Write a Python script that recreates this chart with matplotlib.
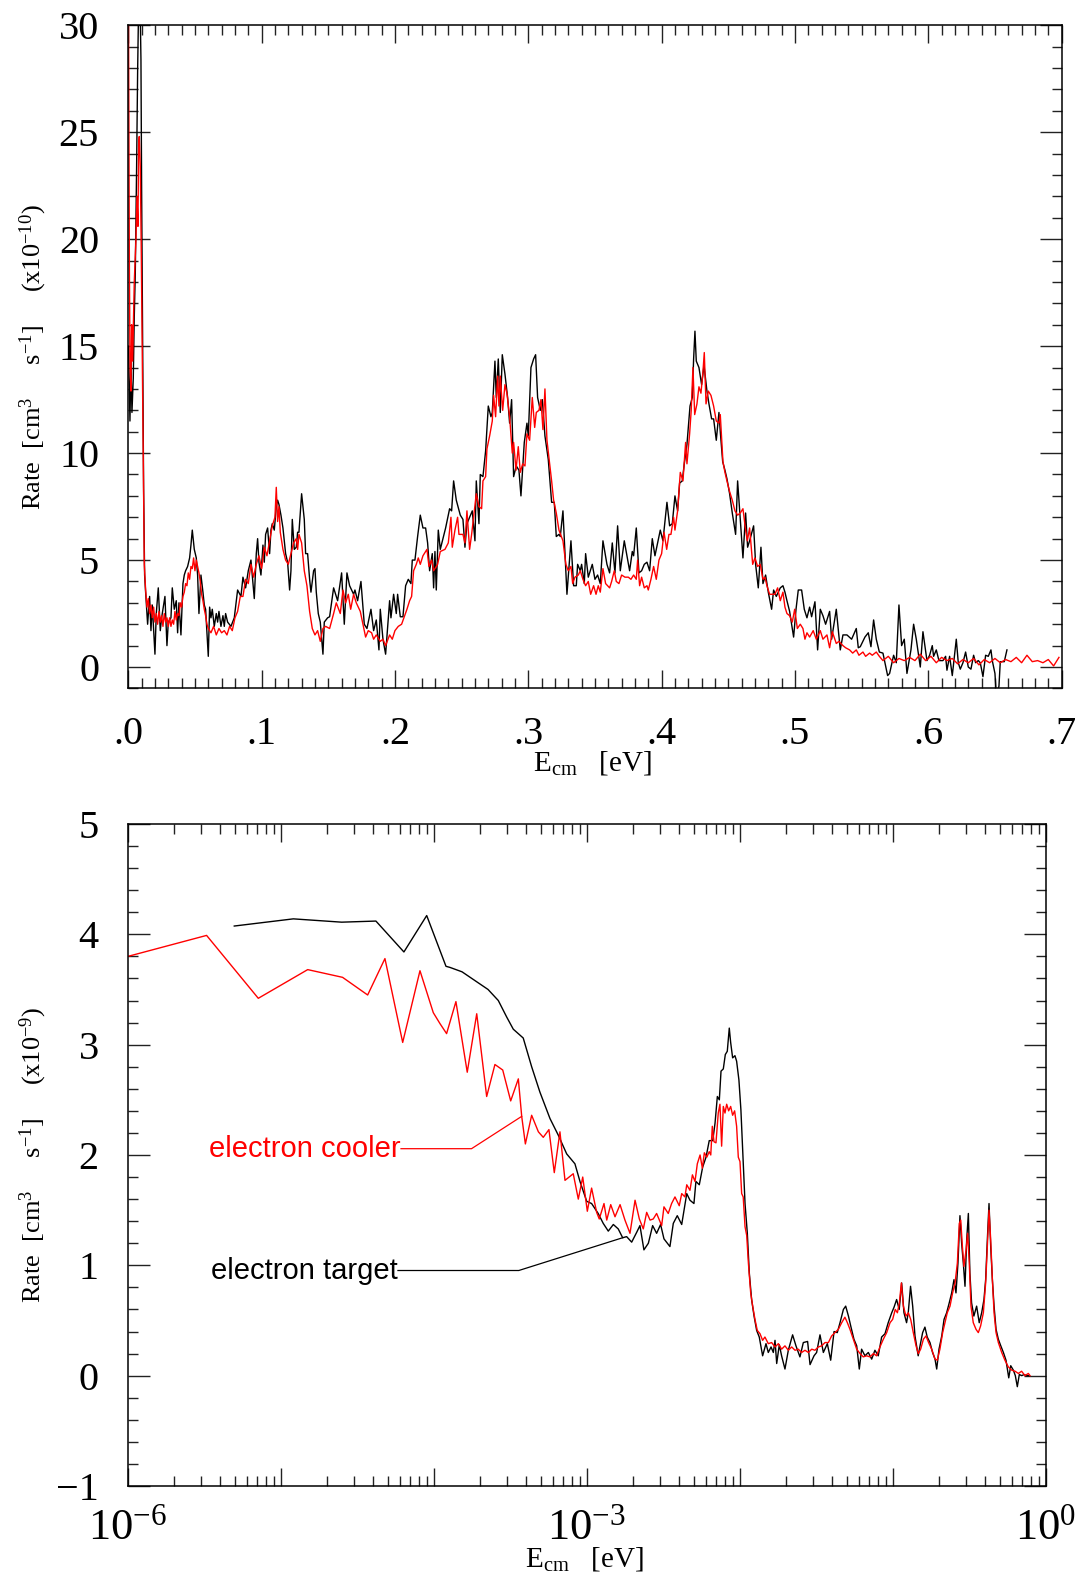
import numpy as np
import matplotlib
matplotlib.use("Agg")
import matplotlib.pyplot as plt
from matplotlib.ticker import MultipleLocator, FixedLocator, LogLocator, NullFormatter, FuncFormatter

# ---------------------------------------------------------------------------
# Upper panel: rate vs. collision energy (linear energy axis), units 1e-10
# ---------------------------------------------------------------------------
lin_e_target = [
    0.0002, 0.00075, 0.00125, 0.002, 0.00275, 0.00375, 0.0045, 0.00525, 0.00625, 0.007, 0.00775, 0.00875, 0.0095, 0.010, 0.01075, 0.0115, 0.01225, 0.013,
    0.0145, 0.016, 0.017, 0.018, 0.020, 0.021, 0.0225, 0.024, 0.025, 0.026, 0.0275, 0.029, 0.030, 0.032, 0.033, 0.0345, 0.036, 0.037, 0.038, 0.0395, 0.041, 0.042, 0.043,
    0.0445, 0.046, 0.047, 0.048, 0.0495, 0.051, 0.052, 0.053, 0.0545, 0.056, 0.057, 0.058, 0.060, 0.061, 0.062, 0.063, 0.0645, 0.066, 0.067, 0.068, 0.0695, 0.071, 0.072, 0.073, 0.0745,
    0.077, 0.0795, 0.082, 0.0845, 0.086, 0.088, 0.090, 0.092, 0.093, 0.0945, 0.096, 0.097, 0.098, 0.0995, 0.101, 0.102, 0.103, 0.1045, 0.106, 0.107, 0.108, 0.1095, 0.111, 0.112, 0.113, 0.1145,
    0.116, 0.117, 0.118, 0.1195, 0.121, 0.122, 0.123, 0.1245, 0.126, 0.127, 0.128, 0.130, 0.132, 0.133, 0.1345, 0.136, 0.137, 0.139, 0.140, 0.141, 0.1425, 0.144, 0.146, 0.147, 0.1495,
    0.151, 0.154, 0.157, 0.160, 0.162, 0.164, 0.166, 0.169, 0.170, 0.172, 0.1745, 0.177, 0.179, 0.182, 0.184, 0.186, 0.188, 0.189, 0.191, 0.193,
    0.196, 0.197, 0.199, 0.201, 0.202, 0.204, 0.206, 0.208, 0.210, 0.212, 0.213, 0.215, 0.217, 0.219, 0.221, 0.223, 0.2245, 0.226, 0.228, 0.229, 0.230, 0.231, 0.2325,
    0.234, 0.236, 0.238, 0.241, 0.2425, 0.244, 0.246, 0.249, 0.251, 0.2525, 0.254, 0.256, 0.258, 0.260, 0.261, 0.263, 0.264, 0.266, 0.268,
    0.270, 0.272, 0.273, 0.275, 0.276, 0.2775, 0.279, 0.2805, 0.2825, 0.2845, 0.286, 0.2875, 0.289, 0.291, 0.293, 0.2945,
    0.297, 0.299, 0.300, 0.302, 0.304, 0.3055, 0.307, 0.309, 0.3105, 0.3125, 0.315, 0.3175, 0.3195, 0.321, 0.323,
    0.324, 0.326, 0.329, 0.332, 0.334, 0.336, 0.337, 0.339, 0.340, 0.342, 0.343, 0.345, 0.348, 0.350, 0.352, 0.354, 0.356,
    0.359, 0.361, 0.363, 0.365, 0.367, 0.369, 0.372, 0.374, 0.376, 0.378, 0.379, 0.381, 0.383, 0.385, 0.387, 0.389, 0.391, 0.393,
    0.395, 0.397, 0.399, 0.401, 0.403, 0.404, 0.406, 0.408, 0.410, 0.412, 0.4135, 0.4155, 0.417, 0.419, 0.420, 0.4213,
    0.423, 0.424, 0.425, 0.426, 0.428, 0.430, 0.4318, 0.434, 0.4355, 0.4375, 0.439, 0.441, 0.443, 0.444, 0.4458, 0.4475, 0.449,
    0.451, 0.453, 0.4555, 0.457, 0.459, 0.461, 0.463, 0.4645, 0.466, 0.469, 0.4705, 0.4725, 0.4745, 0.476, 0.478, 0.480, 0.4825, 0.484, 0.486, 0.489, 0.491, 0.4925, 0.494,
    0.496, 0.499, 0.5008, 0.5025, 0.505, 0.507, 0.509, 0.511, 0.5125, 0.515, 0.517, 0.519, 0.521, 0.523, 0.526, 0.5275,
    0.531, 0.534, 0.536, 0.539, 0.5425, 0.546, 0.5475, 0.549, 0.5525, 0.555, 0.557, 0.559, 0.561, 0.5633, 0.566, 0.5695,
    0.571, 0.574, 0.576, 0.578, 0.580, 0.582, 0.584, 0.587, 0.589, 0.591, 0.594, 0.596, 0.599, 0.601, 0.603, 0.604, 0.606,
    0.608, 0.611, 0.613, 0.614, 0.616, 0.618, 0.621, 0.6225, 0.624, 0.626, 0.628, 0.630, 0.632, 0.634, 0.6355, 0.6375, 0.639, 0.641, 0.643, 0.645, 0.647, 0.648, 0.650, 0.651, 0.653, 0.654, 0.657, 0.659,
]
lin_rate_target = [
    15.0, 13.3, 11.5, 14.3, 11.9, 13.5, 16.4, 18.4, 23.4, 27.8, 31.0, 31.5, 28.4, 22.4, 15.6, 8.3, 4.3, 3.5,
    2.0, 3.3, 1.7, 2.9, 0.6, 2.5, 3.7, 1.7, 2.3, 2.7, 3.3, 1.0, 2.1, 2.3, 3.7, 2.7, 3.1, 1.6, 3.0, 1.5, 3.9, 4.3, 4.5,
    4.7, 5.1, 5.7, 6.4, 5.5, 5.1, 4.3, 2.5, 4.3, 3.5, 2.9, 2.7, 0.5, 2.8, 2.3, 2.7, 1.9, 2.5, 2.1, 2.6, 1.9, 2.4, 1.9, 2.5, 2.1,
    1.9, 2.3, 3.6, 3.3, 4.2, 3.7, 4.5, 5.0, 4.3, 3.2, 5.3, 6.0, 4.9, 4.3, 5.7, 4.9, 6.2, 6.5, 5.3, 6.4, 6.7, 6.4, 7.5, 7.8, 7.6, 7.1,
    6.5, 5.9, 5.3, 4.9, 3.6, 4.5, 6.9, 5.5, 5.6, 6.3, 6.3, 8.1, 6.9, 5.3, 5.3, 4.1, 3.5, 4.5, 4.6, 3.5, 2.5, 2.1, 0.6, 2.1, 2.3,
    2.35, 3.7, 3.1, 4.4, 2.0, 4.4, 3.8, 3.4, 3.6, 3.1, 4.0, 2.0, 1.8, 2.7, 1.7, 2.2, 0.8, 2.7, 1.3, 0.6,
    3.1, 2.3, 3.4, 2.5, 3.4, 2.35, 2.35, 3.8, 4.1, 3.9, 5.0, 5.0, 6.1, 7.1, 6.5, 6.5, 5.8, 4.5, 5.3, 3.7, 5.4, 3.6, 6.4,
    5.5, 6.0, 6.5, 7.4, 7.3, 8.7, 7.8, 7.1, 6.9, 5.6, 6.7, 7.0, 7.3, 5.9, 8.7, 6.7, 9.0, 8.9, 10.1,
    12.2, 11.7, 11.9, 14.3, 12.6, 14.4, 11.9, 14.6, 13.7, 12.6, 11.4, 12.5, 8.9, 9.4, 9.2, 8.0,
    10.5, 11.4, 10.8, 14.0, 14.4, 14.6, 12.6, 12.0, 12.5, 10.8, 9.7, 7.7, 7.7, 6.1, 6.2,
    6.1, 7.3, 3.4, 5.9, 3.8, 3.8, 4.8, 4.5, 4.8, 3.9, 5.3, 4.2, 4.8, 4.1, 4.3, 3.9, 5.9,
    4.8, 4.4, 5.8, 4.4, 6.6, 4.5, 5.9, 5.2, 4.5, 5.4, 5.2, 6.5, 4.4, 4.5, 4.8, 4.9, 4.5, 6.0,
    5.2, 5.8, 6.4, 5.9, 7.1, 7.7, 6.6, 6.7, 8.0, 7.3, 8.6, 8.7, 9.5, 10.4, 11.2, 12.2,
    12.6, 14.4, 15.7, 14.3, 14.0, 13.2, 14.1, 12.9, 12.3, 11.6, 11.6, 10.6, 11.9, 11.0, 9.6, 9.2, 8.8,
    8.1, 7.2, 6.2, 8.7, 6.9, 5.1, 7.2, 5.6, 5.9, 6.6, 4.8, 3.7, 5.6, 3.9, 4.3, 3.5, 2.7, 3.6, 3.3, 3.7, 3.8, 3.5, 3.1,
    2.6, 1.4, 2.7, 3.6, 3.6, 2.7, 2.3, 2.8, 2.35, 3.05, 0.8, 2.7, 2.4, 2.0, 2.6, 1.3,
    2.7, 0.8, 1.5, 1.5, 1.3, 1.8, 0.9, 0.95, 1.4, 1.6, 0.95, 2.2, 1.3, 0.7, 0.65, -0.4,
    -0.3, 0.55, 0.2, 2.9, 1.0, 1.3, -0.3, 0.8, 2.0, 1.3, 0.0, 1.65, 0.3, 0.55, 1.0, 0.5, 0.8,
    0.3, 0.3, 0.5, -0.15, 0.5, -0.4, 1.3, 0.2, -0.1, 0.2, 0.7, 0.0, -0.1, 0.55, 0.2, 0.3, 0.2, -0.45, 0.55, 0.5, 0.8, 0.3, -0.3, -1.3, -0.9, 0.25, 0.25, 0.8,
]

lin_e_cooler = [
    0.0, 0.0004, 0.0008, 0.0013, 0.002, 0.0025, 0.00325, 0.0045, 0.00575, 0.0065, 0.00725, 0.00775, 0.00825, 0.009, 0.00975, 0.01075, 0.012, 0.013,
    0.014, 0.015, 0.016, 0.017, 0.018, 0.019, 0.020, 0.021, 0.022, 0.023, 0.024, 0.025, 0.026, 0.027, 0.028, 0.029, 0.030, 0.031, 0.032, 0.033, 0.034, 0.035, 0.036, 0.037,
    0.038, 0.039, 0.040, 0.041, 0.042, 0.043, 0.044, 0.045, 0.046, 0.047, 0.048, 0.049, 0.050, 0.051, 0.052, 0.053, 0.054, 0.055, 0.056, 0.057, 0.058, 0.059, 0.060,
    0.062, 0.064, 0.066, 0.068, 0.070, 0.072, 0.074, 0.076, 0.078, 0.080, 0.082, 0.084, 0.086, 0.088, 0.090, 0.092, 0.094, 0.096, 0.098, 0.100,
    0.102, 0.104, 0.106, 0.108, 0.110, 0.111, 0.112, 0.113, 0.114, 0.116, 0.118, 0.120, 0.122, 0.124, 0.126, 0.127, 0.128, 0.130, 0.132, 0.134, 0.136, 0.138, 0.140, 0.142, 0.144, 0.146, 0.148,
    0.151, 0.154, 0.156, 0.159, 0.161, 0.163, 0.165, 0.1668, 0.169, 0.171, 0.174, 0.176, 0.178, 0.180, 0.1825, 0.184, 0.186, 0.189, 0.191, 0.193,
    0.196, 0.198, 0.200, 0.2025, 0.205, 0.207, 0.209, 0.211, 0.2125, 0.214, 0.216, 0.2175, 0.219, 0.221, 0.224, 0.2255, 0.2275, 0.229, 0.232, 0.234,
    0.2375, 0.240, 0.242, 0.243, 0.245, 0.247, 0.248, 0.251, 0.2525, 0.254, 0.256, 0.2575, 0.259, 0.261, 0.263, 0.265, 0.266, 0.268, 0.269, 0.271,
    0.273, 0.274, 0.2755, 0.277, 0.278, 0.279, 0.2808, 0.2825, 0.284, 0.286, 0.288, 0.289, 0.2908, 0.2925, 0.294, 0.2958, 0.2975, 0.299, 0.301, 0.303,
    0.3048, 0.306, 0.308, 0.3095, 0.311, 0.3125, 0.314, 0.3155, 0.3175, 0.319, 0.321, 0.323,
    0.326, 0.3282, 0.330, 0.332, 0.3333, 0.335, 0.3375, 0.339, 0.341, 0.343, 0.345, 0.3468, 0.349, 0.3508, 0.3525, 0.354, 0.356, 0.358, 0.361, 0.3625,
    0.3645, 0.366, 0.368, 0.370, 0.3725, 0.375, 0.377, 0.379, 0.381, 0.382, 0.3835, 0.385, 0.387, 0.389, 0.390, 0.392, 0.394, 0.396, 0.398, 0.400,
    0.4018, 0.4038, 0.4055, 0.407, 0.409, 0.410, 0.412, 0.414, 0.416, 0.418, 0.419, 0.421, 0.4222, 0.4235, 0.4248, 0.4265, 0.428, 0.4295, 0.431, 0.432,
    0.4333, 0.435, 0.437, 0.439, 0.441, 0.443, 0.444, 0.446, 0.4475, 0.449, 0.451, 0.453, 0.455, 0.457, 0.459, 0.461, 0.463, 0.4643, 0.466, 0.4683,
    0.470, 0.472, 0.474, 0.476, 0.4775, 0.479, 0.481, 0.483, 0.485, 0.487, 0.489, 0.491, 0.4925, 0.494,
    0.496, 0.498, 0.4998, 0.5018, 0.504, 0.506, 0.5075, 0.509, 0.511, 0.5137, 0.516, 0.519, 0.521, 0.524, 0.526, 0.528, 0.531, 0.533, 0.536, 0.538,
    0.541, 0.5433, 0.546, 0.548, 0.551, 0.553, 0.556, 0.558, 0.561, 0.5633,
    0.566, 0.570, 0.574, 0.578, 0.582, 0.586, 0.590, 0.594, 0.598, 0.602, 0.606, 0.610, 0.614, 0.618, 0.622, 0.626, 0.630, 0.634, 0.638, 0.642,
    0.646, 0.650, 0.654, 0.658, 0.662, 0.666, 0.670, 0.674, 0.678, 0.682, 0.686, 0.690, 0.694, 0.698,
]
lin_rate_cooler = [
    34.0, 26.0, 19.0, 14.0, 12.9, 16.0, 14.3, 18.0, 20.0, 22.0, 20.6, 24.4, 24.8, 23.4, 19.4, 12.7, 4.8, 3.6,
    2.8, 3.2, 2.5, 2.9, 2.3, 2.8, 2.1, 2.5, 2.0, 2.6, 2.1, 2.4, 1.9, 2.5, 2.1, 2.3, 1.9, 2.3, 1.9, 2.2, 2.0, 2.6, 2.2, 2.5,
    2.4, 3.0, 2.8, 3.3, 3.5, 3.9, 3.8, 4.4, 4.1, 4.7, 4.6, 5.1, 4.5, 5.0, 4.7, 4.4, 4.0, 3.4, 3.1, 2.7, 2.4, 2.0, 1.8,
    1.6, 1.9, 1.5, 1.8, 1.6, 1.7, 1.5, 1.9, 1.7, 2.3, 2.6, 3.3, 3.3, 4.1, 3.9, 4.8, 4.2, 4.8, 5.2, 4.6,
    5.6, 5.2, 5.9, 6.6, 7.0, 8.4, 6.8, 7.5, 6.3, 5.5, 5.0, 4.8, 5.3, 5.8, 6.0, 5.5, 6.2, 5.8, 4.5, 3.8, 2.6, 1.8, 1.5, 1.7, 1.2, 1.8, 1.9,
    1.8, 2.5, 3.0, 2.5, 3.6, 3.0, 3.4, 2.7, 3.4, 3.0, 2.6, 2.0, 1.4, 1.7, 1.6, 1.3, 1.5, 1.2, 1.3, 1.0,
    1.5, 1.3, 1.7, 1.9, 2.0, 2.35, 2.7, 3.1, 3.3, 4.5, 4.8, 5.1, 4.8, 5.2, 5.5, 4.7, 5.0, 4.5, 4.8, 5.4,
    5.5, 5.8, 7.0, 5.6, 6.4, 7.0, 6.2, 6.2, 5.8, 7.3, 5.5, 6.2, 7.0, 8.1, 7.5, 7.4, 8.7, 8.9, 10.2, 10.8,
    11.5, 12.7, 11.7, 13.6, 12.2, 13.6, 12.0, 13.2, 12.8, 11.7, 10.0, 10.5, 9.2, 10.3, 9.1, 9.5, 9.4, 10.9, 10.6, 12.6,
    11.2, 11.9, 12.0, 12.5, 11.1, 13.0, 10.6, 9.8, 8.7, 7.8, 7.2, 6.4,
    5.9, 4.8, 4.5, 4.7, 3.9, 4.2, 4.3, 4.5, 4.1, 3.8, 4.0, 3.4, 3.8, 3.4, 3.8, 3.5, 4.6, 3.9, 3.7, 4.0,
    4.5, 4.0, 3.9, 4.3, 4.2, 4.2, 4.1, 4.3, 4.1, 5.0, 3.8, 4.2, 3.7, 3.8, 3.6, 4.1, 4.7, 4.1, 5.0, 5.3,
    6.3, 5.5, 6.2, 6.2, 7.0, 6.4, 7.3, 9.1, 8.7, 10.5, 9.5, 10.9, 12.0, 14.0, 11.8, 12.3, 13.1, 12.8, 13.8, 14.7,
    12.3, 12.9, 12.7, 12.2, 11.5, 11.4, 11.8, 9.6, 9.1, 8.7, 8.2, 7.8, 7.3, 7.1, 7.2, 7.4, 6.4, 5.9, 6.5, 4.8,
    5.1, 4.7, 4.8, 4.1, 4.2, 3.8, 3.4, 3.4, 3.4, 3.7, 3.1, 3.5, 2.8, 2.5,
    2.4, 2.1, 2.7, 1.8, 2.0, 1.8, 1.3, 1.6, 1.4, 1.7, 1.3, 1.7, 1.3, 1.5, 0.9, 1.65, 1.1, 1.2, 1.0, 0.9,
    0.8, 0.65, 0.8, 0.55, 0.7, 0.5, 0.65, 0.55, 0.7, 0.5,
    0.3, 0.5, 0.2, 0.4, 0.3, 0.45, 0.3, 0.6, 0.3, 0.5, 0.2, 0.45, 0.3, 0.4, 0.15, 0.35, 0.2, 0.4, 0.1, 0.35,
    0.2, 0.4, 0.2, 0.35, 0.25, 0.45, 0.2, 0.55, 0.25, 0.3, 0.2, 0.35, 0.05, 0.45,
]

# ---------------------------------------------------------------------------
# Lower panel: rate vs. collision energy (log energy axis), units 1e-9
# energies given as log10(E / eV)
# ---------------------------------------------------------------------------
log_e_target = [
    -5.305, -4.919, -4.603, -4.379, -4.196, -4.047, -3.921, -3.895, -3.816, -3.731, -3.646, -3.579, -3.524, -3.481, -3.416, -3.361, -3.307, -3.241, -3.187, -3.132,
    -3.078, -3.045, -3.001, -2.969, -2.926, -2.893, -2.860, -2.827, -2.795, -2.766, -2.740, -2.707, -2.674, -2.653, -2.627, -2.598, -2.570, -2.544, -2.518, -2.496,
    -2.457, -2.435, -2.409, -2.380, -2.347, -2.326, -2.300, -2.287, -2.265, -2.243, -2.221, -2.200, -2.177, -2.162, -2.147, -2.134, -2.123, -2.108, -2.095, -2.082,
    -2.069, -2.060, -2.047, -2.032, -2.021, -2.006, -1.993, -1.980, -1.966, -1.951, -1.938, -1.923, -1.907, -1.890, -1.873, -1.851, -1.829, -1.814, -1.796, -1.781,
    -1.770, -1.759, -1.742, -1.727, -1.705, -1.683, -1.655, -1.633, -1.607, -1.585, -1.557, -1.541, -1.515, -1.498, -1.476, -1.454, -1.428, -1.406, -1.384, -1.363,
    -1.345, -1.323, -1.308, -1.290, -1.275, -1.254, -1.236, -1.219, -1.204, -1.182, -1.160, -1.138, -1.117, -1.095, -1.073, -1.051, -1.030, -1.007, -0.992, -0.975,
    -0.958, -0.942, -0.927, -0.910, -0.899, -0.884, -0.870, -0.855, -0.834, -0.822, -0.805, -0.790, -0.775, -0.757, -0.740, -0.724, -0.713, -0.698, -0.680, -0.665,
    -0.648, -0.631, -0.615, -0.600, -0.587, -0.574, -0.561, -0.550, -0.539, -0.528, -0.517, -0.506, -0.496, -0.485, -0.470, -0.452, -0.435, -0.419, -0.404, -0.393,
    -0.382, -0.371, -0.360, -0.349, -0.338, -0.325, -0.310, -0.294, -0.277, -0.260, -0.242, -0.229, -0.212, -0.199, -0.186, -0.173, -0.157, -0.142, -0.125, -0.108,
]
log_rate_target = [
    4.075, 4.14, 4.11, 4.12, 3.84, 4.17, 3.71, 3.70, 3.66, 3.58, 3.50, 3.40, 3.25, 3.14, 3.06, 2.80, 2.57, 2.33, 2.18, 2.01,
    1.92, 1.76, 1.58, 1.56, 1.47, 1.38, 1.31, 1.37, 1.33, 1.25, 1.26, 1.21, 1.30, 1.36, 1.14, 1.20, 1.36, 1.29, 1.37, 1.24,
    1.17, 1.38, 1.45, 1.37, 1.65, 1.59, 1.56, 1.76, 1.73, 1.89, 1.98, 2.13, 2.13, 2.29, 2.53, 2.50, 2.76, 2.78, 2.91, 2.94,
    3.15, 3.02, 2.88, 2.90, 2.85, 2.68, 2.41, 2.00, 1.56, 1.29, 0.93, 0.69, 0.54, 0.41, 0.35, 0.18, 0.29, 0.21, 0.26, 0.21,
    0.32, 0.11, 0.28, 0.18, 0.06, 0.23, 0.37, 0.27, 0.17, 0.30, 0.31, 0.10, 0.18, 0.21, 0.37, 0.21, 0.29, 0.14, 0.40, 0.39,
    0.48, 0.60, 0.63, 0.54, 0.45, 0.33, 0.27, 0.06, 0.24, 0.18, 0.21, 0.15, 0.23, 0.18, 0.35, 0.38, 0.48, 0.57, 0.62, 0.69,
    0.60, 0.84, 0.57, 0.48, 0.57, 0.81, 0.63, 0.36, 0.18, 0.27, 0.39, 0.44, 0.35, 0.30, 0.21, 0.15, 0.06, 0.24, 0.36, 0.51,
    0.57, 0.66, 0.75, 0.87, 0.75, 1.02, 1.45, 1.20, 1.02, 0.81, 1.23, 1.47, 0.93, 0.66, 0.54, 0.63, 0.48, 0.57, 0.69, 0.87,
    1.23, 1.56, 1.17, 0.87, 0.63, 0.42, 0.33, 0.27, 0.21, 0.14, -0.02, 0.09, 0.05, 0.00, -0.10, 0.01, 0.00, 0.01, 0.00, 0.00,
]

log_e_cooler = [
    -6.000, -5.486, -5.148, -4.825, -4.597, -4.433, -4.320, -4.204, -4.091, -4.004, -3.960, -3.917, -3.856, -3.782, -3.720, -3.655, -3.601, -3.550, -3.498, -3.448,
    -3.426, -3.402, -3.361, -3.317, -3.285, -3.248, -3.213, -3.176, -3.143, -3.089, -3.056, -3.027, -2.997, -2.969, -2.936, -2.919, -2.888, -2.870, -2.844, -2.816,
    -2.783, -2.751, -2.718, -2.685, -2.657, -2.631, -2.609, -2.587, -2.566, -2.544, -2.511, -2.496, -2.468, -2.446, -2.424, -2.396, -2.380, -2.359, -2.347, -2.326,
    -2.310, -2.293, -2.278, -2.260, -2.245, -2.232, -2.216, -2.200, -2.190, -2.180, -2.169, -2.156, -2.141, -2.130, -2.119, -2.108, -2.097, -2.086, -2.073, -2.060,
    -2.047, -2.034, -2.021, -2.010, -1.999, -1.988, -1.978, -1.966, -1.955, -1.944, -1.929, -1.916, -1.901, -1.886, -1.868, -1.851, -1.836, -1.814, -1.792, -1.770,
    -1.748, -1.727, -1.705, -1.683, -1.661, -1.639, -1.618, -1.596, -1.574, -1.552, -1.530, -1.509, -1.487, -1.465, -1.443, -1.421, -1.400, -1.378, -1.356, -1.334,
    -1.313, -1.297, -1.280, -1.258, -1.236, -1.214, -1.193, -1.171, -1.149, -1.127, -1.106, -1.084, -1.062, -1.040, -1.018, -1.001, -0.984, -0.970, -0.957, -0.944,
    -0.931, -0.914, -0.898, -0.883, -0.866, -0.848, -0.833, -0.818, -0.800, -0.783, -0.766, -0.746, -0.724, -0.709, -0.692, -0.674, -0.659, -0.644, -0.626, -0.609,
    -0.593, -0.578, -0.565, -0.556, -0.545, -0.535, -0.521, -0.511, -0.500, -0.489, -0.474, -0.456, -0.441, -0.426, -0.408, -0.393, -0.382, -0.371, -0.360, -0.349,
    -0.338, -0.325, -0.310, -0.288, -0.267, -0.245, -0.223, -0.201, -0.179, -0.158, -0.136, -0.114, -0.103,
]
log_rate_cooler = [
    3.80, 3.99, 3.42, 3.68, 3.61, 3.45, 3.78, 3.02, 3.67, 3.29, 3.19, 3.10, 3.39, 2.75, 3.28, 2.53, 2.82, 2.77, 2.49, 2.69,
    2.35, 2.10, 2.36, 2.21, 2.16, 2.23, 1.84, 2.21, 1.77, 1.83, 1.60, 1.80, 1.49, 1.70, 1.48, 1.42, 1.56, 1.41, 1.55, 1.44,
    1.55, 1.41, 1.29, 1.59, 1.42, 1.33, 1.48, 1.41, 1.42, 1.47, 1.36, 1.53, 1.47, 1.56, 1.62, 1.54, 1.65, 1.62, 1.73, 1.68,
    1.82, 1.76, 1.92, 2.00, 1.88, 2.02, 1.98, 2.03, 2.00, 2.26, 2.12, 2.11, 2.38, 2.46, 2.08, 2.44, 2.38, 2.46, 2.40, 2.44,
    2.36, 2.40, 2.26, 1.98, 1.94, 1.65, 1.62, 1.35, 1.27, 1.02, 0.75, 0.63, 0.51, 0.41, 0.38, 0.32, 0.35, 0.29, 0.30, 0.26,
    0.29, 0.24, 0.27, 0.23, 0.26, 0.23, 0.24, 0.21, 0.23, 0.21, 0.24, 0.23, 0.26, 0.27, 0.30, 0.30, 0.36, 0.39, 0.42, 0.48,
    0.53, 0.48, 0.42, 0.33, 0.24, 0.20, 0.17, 0.18, 0.17, 0.20, 0.18, 0.26, 0.33, 0.39, 0.48, 0.51, 0.60, 0.57, 0.66, 0.84,
    0.63, 0.54, 0.57, 0.51, 0.39, 0.27, 0.20, 0.24, 0.33, 0.36, 0.30, 0.24, 0.15, 0.14, 0.24, 0.39, 0.48, 0.57, 0.63, 0.75,
    0.84, 1.02, 1.38, 1.41, 1.17, 0.99, 1.14, 1.29, 1.02, 0.63, 0.48, 0.42, 0.39, 0.45, 0.57, 0.84, 1.17, 1.50, 1.23, 0.87,
    0.57, 0.39, 0.30, 0.21, 0.14, 0.08, 0.05, 0.04, 0.02, 0.04, 0.00, 0.02, 0.00,
]

# Labels for the two measurements in the lower panel
label_cooler = "electron cooler"
label_target = "electron target"

# ---------------------------------------------------------------------------
# Styling
# ---------------------------------------------------------------------------
plt.rcParams['font.family'] = ['Liberation Serif', 'DejaVu Serif']
plt.rcParams['mathtext.fontset'] = 'custom'
plt.rcParams['mathtext.rm'] = 'Liberation Serif'
plt.rcParams['mathtext.it'] = 'Liberation Serif:italic'
plt.rcParams['mathtext.bf'] = 'Liberation Serif:bold'
plt.rcParams['axes.linewidth'] = 1.1

TICK_FS = 29
YLABEL_FS = 19
XLABEL_FS = 21
CURVE_LW = 1.0


def style_ticks(ax, xpad, ypad):
    ax.tick_params(which='both', direction='in', top=True, right=True,
                   width=1.0, colors='#222222', labelcolor='black')
    ax.tick_params(axis='x', which='major', length=13, pad=xpad, labelsize=TICK_FS)
    ax.tick_params(axis='y', which='major', length=16, pad=ypad, labelsize=TICK_FS)
    ax.tick_params(which='minor', length=7)


def place_labels(ax, xlab_y, ylab_x):
    ax.xaxis.set_label_coords(0.497, xlab_y)
    ax.xaxis.label.set_va('center')
    ax.yaxis.set_label_coords(ylab_x, 0.5)
    ax.yaxis.label.set_va('center')


fig = plt.figure(figsize=(10.78, 15.80), dpi=100)

# ---------------- upper panel ----------------
ax1 = fig.add_axes([0.1190, 0.5643, 0.8658, 0.4197])
ax1.plot(lin_e_target, lin_rate_target, color='black', lw=CURVE_LW)
ax1.plot(lin_e_cooler, lin_rate_cooler, color='#ff0000', lw=CURVE_LW)
ax1.set_xlim(0.0, 0.7)
ax1.set_ylim(-1, 30)
ax1.xaxis.set_major_locator(MultipleLocator(0.1))
ax1.xaxis.set_minor_locator(MultipleLocator(0.01))
ax1.yaxis.set_major_locator(MultipleLocator(5))
ax1.yaxis.set_minor_locator(MultipleLocator(1))
ax1.xaxis.set_major_formatter(FuncFormatter(lambda v, p: '.%d' % int(round(v * 10))))
ax1.yaxis.set_major_formatter(FuncFormatter(lambda v, p: '%d' % int(round(v))))
style_ticks(ax1, xpad=20, ypad=21)
ax1.set_xlabel(r'E$_{\rm cm}$   [eV]', fontsize=XLABEL_FS)
ax1.set_ylabel(r'Rate  [cm$^3$     s$^{-1}$]     (x10$^{-10}$)', fontsize=YLABEL_FS)
place_labels(ax1, -0.112, -0.102)

# ---------------- lower panel ----------------
ax2 = fig.add_axes([0.1187, 0.0595, 0.8514, 0.4190])
e_target = 10.0 ** np.asarray(log_e_target)
e_cooler = 10.0 ** np.asarray(log_e_cooler)
ax2.plot(e_target, log_rate_target, color='black', lw=CURVE_LW)
ax2.plot(e_cooler, log_rate_cooler, color='#ff0000', lw=CURVE_LW)
ax2.set_xscale('log')
ax2.set_xlim(1e-6, 1.0)
ax2.set_ylim(-1, 5)
ax2.xaxis.set_major_locator(FixedLocator([1e-6, 1e-5, 1e-4, 1e-3, 1e-2, 1e-1, 1.0]))
ax2.xaxis.set_minor_locator(LogLocator(base=10, subs=np.arange(2, 10)))
ax2.xaxis.set_minor_formatter(NullFormatter())


def log_label(v, p):
    exp = int(round(np.log10(v)))
    if exp in (-6, -3, 0):
        return r'$10^{%d}$' % exp
    return ''


ax2.xaxis.set_major_formatter(FuncFormatter(log_label))
ax2.yaxis.set_major_locator(MultipleLocator(1))
ax2.yaxis.set_minor_locator(MultipleLocator(0.2))
ax2.yaxis.set_major_formatter(FuncFormatter(lambda v, p: ('%d' % int(round(v))).replace('-', '\u2212')))
style_ticks(ax2, xpad=16, ypad=21)
ax2.tick_params(axis='x', which='major', labelsize=TICK_FS + 3)
ax2.set_xlabel(r'E$_{\rm cm}$   [eV]', fontsize=XLABEL_FS)
ax2.set_ylabel(r'Rate  [cm$^3$     s$^{-1}$]     (x10$^{-9}$)', fontsize=YLABEL_FS)
place_labels(ax2, -0.111, -0.103)

# Leader lines tying the text labels to their curves
i_cool = log_e_cooler.index(-3.426)
i_targ = log_e_target.index(-2.766)
cool_text_pos = (10 ** -4.215, 2.057)
cool_knee = 10 ** -3.754
targ_text_pos = (10 ** -4.235, 0.953)
targ_knee = 10 ** -3.445

ax2.plot([cool_text_pos[0], cool_knee, e_cooler[i_cool]],
         [cool_text_pos[1], cool_text_pos[1], log_rate_cooler[i_cool]],
         color='#ff0000', lw=0.9)
ax2.plot([targ_text_pos[0], targ_knee, e_target[i_targ]],
         [targ_text_pos[1], targ_text_pos[1], log_rate_target[i_targ]],
         color='black', lw=0.9)
ax2.text(cool_text_pos[0], cool_text_pos[1], label_cooler, color='#ff0000',
         fontsize=21, family='Liberation Sans', ha='right', va='center')
ax2.text(targ_text_pos[0], targ_text_pos[1], label_target, color='black',
         fontsize=21, family='Liberation Sans', ha='right', va='center')

fig.savefig('out.png', dpi=100)
